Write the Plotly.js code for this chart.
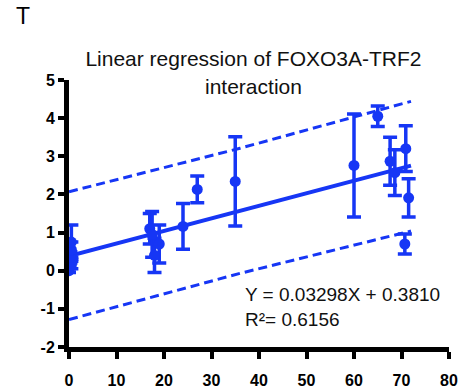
<!DOCTYPE html>
<html>
<head>
<meta charset="utf-8">
<script src="https://cdn.plot.ly/plotly-3.0.1.min.js"></script>
<style>html,body{margin:0;padding:0;background:#fff;}#chart{width:472px;height:390px;}</style>
</head>
<body>
<div id="chart"></div>
<script>
// Data points (time vs interaction), with SEM error bars
var ptX   = [0, 0.5, 0.3, 0.5, 0.5, 17, 17.5, 18, 19, 24, 27, 35, 60, 65, 67.6, 68.6, 70.9, 71.5, 70.7];
var ptY   = [0.0, 0.15, 0.35, 0.55, 0.75, 1.1, 0.95, 0.4, 0.7, 1.16, 2.13, 2.34, 2.76, 4.05, 2.87, 2.57, 3.2, 1.91, 0.7];
var ptErr = [0.05, 0.1, 0.15, 0.2, 0.45, 0.4, 0.6, 0.45, 0.5, 0.6, 0.35, 1.17, 1.35, 0.27, 0.63, 0.6, 0.6, 0.5, 0.26];

// Regression line and prediction band
var slope = 0.03298, intercept = 0.3810;
var fitX = [0, 72];
var bandX = [0, 36, 72];
var bandUpper = [2.07, 3.21, 4.44];
var bandLower = [-1.28, -0.07, 1.04];

var xTicks = [0, 10, 20, 30, 40, 50, 60, 70, 80];
var yTicks = [-2, -1, 0, 1, 2, 3, 4, 5];

var blue = 'rgb(22,54,245)';
var fitY = fitX.map(function(x){ return slope * x + intercept; });

var traces = [
  {x: bandX, y: bandUpper, mode: 'lines', line: {color: blue, width: 3, dash: '9px,5px'}, hoverinfo: 'skip', cliponaxis: false},
  {x: bandX, y: bandLower, mode: 'lines', line: {color: blue, width: 3, dash: '9px,5px'}, hoverinfo: 'skip', cliponaxis: false},
  {x: fitX, y: fitY, mode: 'lines', line: {color: blue, width: 4}, cliponaxis: false},
  {x: ptX, y: ptY, mode: 'markers', marker: {color: blue, size: 11},
   error_y: {type: 'data', array: ptErr, visible: true, color: blue, thickness: 3.5, width: 7},
   cliponaxis: false}
];

var ff = 'Liberation Sans, Arial, sans-serif';
var tickFont = {family: ff, size: 16, color: '#000'};

var layout = {
  width: 472, height: 390,
  margin: {l: 69, r: 23, t: 80, b: 43},
  paper_bgcolor: '#fff', plot_bgcolor: '#fff',
  showlegend: false,
  title: {
    text: 'Linear regression of FOXO3A-TRF2<br>interaction',
    font: {family: ff, size: 21, color: '#111'},
    xref: 'container', yref: 'container',
    x: 0.537, xanchor: 'center', y: 0.83, yanchor: 'middle'
  },
  xaxis: {
    range: [0, 80], tickvals: xTicks, ticktext: xTicks.map(function(v){ return '<b>' + v + '</b>'; }),
    showgrid: false, zeroline: false,
    showline: true, linecolor: '#000', linewidth: 5,
    ticks: 'outside', ticklen: 7, tickwidth: 4, tickcolor: '#000',
    tickfont: tickFont, fixedrange: true, ticklabelstandoff: 8
  },
  yaxis: {
    range: [-2, 5], tickvals: yTicks, ticktext: yTicks.map(function(v){ return '<b>' + v + '</b>'; }),
    showgrid: false, zeroline: false,
    showline: true, linecolor: '#000', linewidth: 5,
    ticks: 'outside', ticklen: 6, tickwidth: 4, tickcolor: '#000',
    tickfont: tickFont, fixedrange: true, ticklabelstandoff: 0
  },
  annotations: [
    {text: 'T', xref: 'paper', yref: 'paper', x: -0.145, y: 1.24, xanchor: 'left', yanchor: 'middle',
     showarrow: false, font: {family: ff, size: 23, color: '#000'}},
    {text: 'Y = 0.03298X + 0.3810<br>R²= 0.6156', xref: 'paper', yref: 'paper', x: 0.458, y: 0.148,
     xanchor: 'left', yanchor: 'middle', align: 'left', showarrow: false,
     font: {family: ff, size: 19, color: '#111'}}
  ]
};

Plotly.newPlot('chart', traces, layout, {displayModeBar: false, staticPlot: true});
</script>
</body>
</html>
